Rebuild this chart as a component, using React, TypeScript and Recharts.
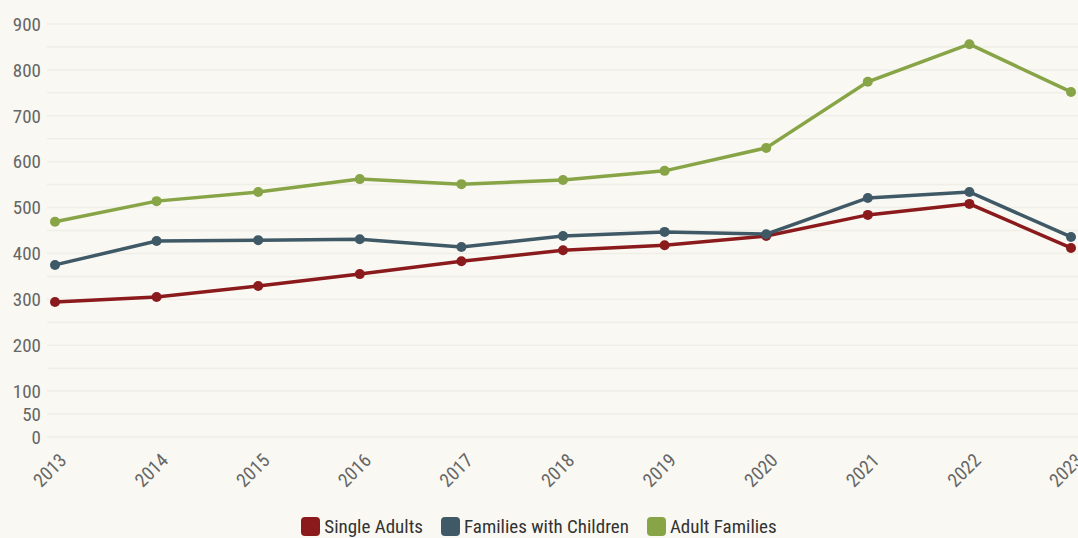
import { CartesianGrid, Legend, Line, LineChart, XAxis, YAxis } from "recharts"

const years = ["2013", "2014", "2015", "2016", "2017", "2018", "2019", "2020", "2021", "2022", "2023"]
const singleAdults = [294, 305, 329, 355, 383, 407, 418, 438, 484, 508, 412]
const familiesWithChildren = [375, 427, 429, 431, 414, 438, 447, 442, 521, 534, 436]
const adultFamilies = [469, 514, 534, 562, 551, 560, 580, 630, 774, 856, 752]

const yTicks = [0, 50, 100, 150, 200, 250, 300, 350, 400, 450, 500, 550, 600, 650, 700, 750, 800, 850, 900]
const labelledTicks = [0, 50, 100, 200, 300, 400, 500, 600, 700, 800, 900]

const series = [
  { key: "single", name: "Single Adults", color: "#8b1a1c" },
  { key: "families", name: "Families with Children", color: "#3f5967" },
  { key: "adult", name: "Adult Families", color: "#87a446" },
]

const FONT = "'Roboto Condensed', 'Liberation Sans Narrow', Roboto, sans-serif"
const BG = "#f9f8f2"

const data = years.map((year, i) => ({
  year,
  single: singleAdults[i],
  families: familiesWithChildren[i],
  adult: adultFamilies[i],
}))

function YearTick({ x, y, payload }: any) {
  return (
    <g transform={`translate(${x + 8},${y + 12})`}>
      <text
        textAnchor="end"
        transform="rotate(-45)"
        fill="#666"
        fontSize={19}
        fontFamily={FONT}
        dy="0.35em"
      >
        {payload.value}
      </text>
    </g>
  )
}

function LegendBox() {
  return (
    <div
      style={{
        height: 36,
        display: "flex",
        justifyContent: "center",
        alignItems: "flex-end",
        gap: 18,
        paddingBottom: 0,
        boxSizing: "border-box",
        fontFamily: FONT,
        fontSize: 19,
        color: "#333",
      }}
    >
      {series.map((s) => (
        <div key={s.key} style={{ display: "flex", alignItems: "center", gap: 4 }}>
          <span
            style={{
              width: 19,
              height: 19,
              borderRadius: 4,
              background: s.color,
              display: "inline-block",
            }}
          />
          <span>{s.name}</span>
        </div>
      ))}
    </div>
  )
}

export default function App() {
  return (
    <div style={{ position: "fixed", left: 0, top: 0, width: 1078, height: 538, background: BG }}>
      <LineChart width={1078} height={538} data={data} margin={{ top: 24, right: 0, left: 0, bottom: 0 }}>
        <CartesianGrid vertical={false} stroke="#efeee8" strokeWidth={1.5} />
        <XAxis
          dataKey="year"
          axisLine={false}
          tickLine={false}
          height={65}
          interval={0}
          padding={{ left: 8, right: 7 }}
          tick={<YearTick />}
        />
        <YAxis
          domain={[0, 900]}
          ticks={yTicks}
          interval={0}
          width={47}
          axisLine={false}
          tickLine={false}
          tickSize={4}
          tick={{ fill: "#666", fontSize: 19, fontFamily: FONT }}
          tickFormatter={(v: number) => (labelledTicks.includes(v) ? String(v) : "")}
        />
        <Legend verticalAlign="bottom" height={36} content={<LegendBox />} />
        {series.map((s) => (
          <Line
            key={s.key}
            dataKey={s.key}
            name={s.name}
            stroke={s.color}
            strokeWidth={3.5}
            dot={{ r: 5, fill: s.color, stroke: s.color, strokeWidth: 0 }}
            activeDot={false}
            isAnimationActive={false}
          />
        ))}
      </LineChart>
    </div>
  )
}
